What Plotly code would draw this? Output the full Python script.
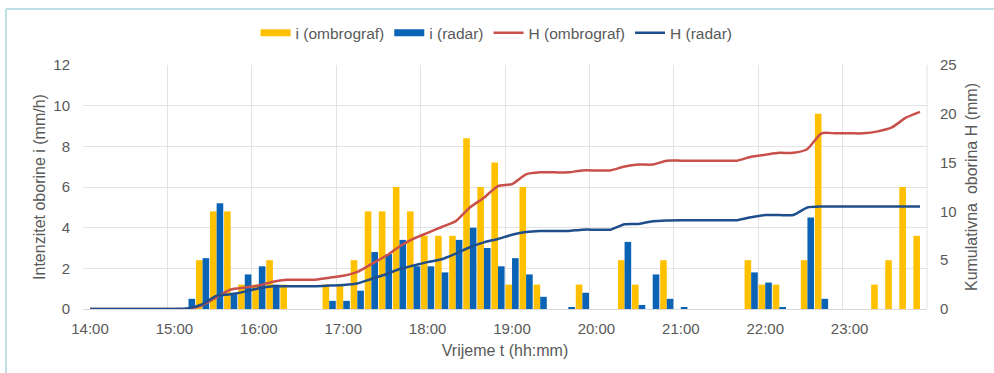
import plotly.graph_objects as go

# 10-minute intervals from 14:00 to 23:50
times = [f"{h:02d}:{m:02d}" for h in range(14, 24) for m in range(0, 60, 10)]

# Rain intensity i (mm/h) per 10-minute interval
i_ombrograf = [0, 0, 0, 0, 0, 0, 0, 0, 2.4, 4.8,
               4.8, 1.2, 1.2, 2.4, 1.2, 0, 0, 1.2, 1.2, 2.4,
               4.8, 4.8, 6.0, 4.8, 3.6, 3.6, 3.6, 8.4, 6.0, 7.2,
               1.2, 6.0, 1.2, 0, 0, 1.2, 0, 0, 2.4, 1.2,
               0, 2.4, 0, 0, 0, 0, 0, 2.4, 1.2, 1.2,
               0, 2.4, 9.6, 0, 0, 0, 1.2, 2.4, 6.0, 3.6]
i_radar = [0, 0, 0, 0, 0, 0, 0, 0.5, 2.5, 5.2,
           0.8, 1.7, 2.1, 1.2, 0, 0, 0, 0.4, 0.4, 0.9,
           2.8, 2.7, 3.4, 2.1, 2.1, 1.8, 3.4, 4.0, 3.0, 2.1,
           2.5, 1.7, 0.6, 0, 0.1, 0.8, 0, 0, 3.3, 0.2,
           1.7, 0.5, 0.1, 0, 0, 0, 0, 1.8, 1.3, 0.1,
           0, 4.5, 0.5, 0, 0, 0, 0, 0, 0, 0]

# Cumulative rainfall H (mm)
H_ombrograf = [0, 0, 0, 0, 0, 0, 0, 0, 0.4, 1.2,
               2.0, 2.2, 2.4, 2.8, 3.0, 3.0, 3.0, 3.2, 3.4, 3.8,
               4.6, 5.4, 6.4, 7.2, 7.8, 8.4, 9.0, 10.4, 11.4, 12.6,
               12.8, 13.8, 14.0, 14.0, 14.0, 14.2, 14.2, 14.2, 14.6, 14.8,
               14.8, 15.2, 15.2, 15.2, 15.2, 15.2, 15.2, 15.6, 15.8, 16.0,
               16.0, 16.4, 18.0, 18.0, 18.0, 18.0, 18.2, 18.6, 19.6, 20.2]
H_radar = [0, 0, 0, 0, 0, 0, 0, 0.08, 0.5, 1.37,
           1.5, 1.78, 2.13, 2.33, 2.33, 2.33, 2.33, 2.4, 2.47, 2.62,
           3.08, 3.53, 4.1, 4.45, 4.8, 5.1, 5.67, 6.33, 6.83, 7.18,
           7.6, 7.88, 7.98, 7.98, 8.0, 8.13, 8.13, 8.13, 8.68, 8.72,
           9.0, 9.08, 9.1, 9.1, 9.1, 9.1, 9.1, 9.4, 9.62, 9.63,
           9.63, 10.4, 10.5, 10.5, 10.5, 10.5, 10.5, 10.5, 10.5, 10.5]

hour_labels = ["14:00", "15:00", "16:00", "17:00", "18:00",
               "19:00", "20:00", "21:00", "22:00", "23:00"]


def minutes(t):
    h, m = map(int, t.split(":"))
    return (h - 14) * 60 + m


STEP = 10
x = [minutes(t) + STEP / 2 for t in times]          # interval centres
tick_x = [minutes(t) + STEP / 2 for t in hour_labels]

TXT = "#595959"
GRID = "#e3e3e3"
FONT = "Liberation Sans, Arial, sans-serif"
YELLOW = "#FFC000"
BLUE = "#0B63B6"
RED = "#C9504A"
NAVY = "#1F4E8C"

fig = go.Figure()
fig.add_bar(x=x, y=i_ombrograf, name="i (ombrograf)", showlegend=False,
            marker=dict(color=YELLOW, line=dict(width=0)))
fig.add_bar(x=x, y=i_radar, name="i (radar)", showlegend=False,
            marker=dict(color=BLUE, line=dict(width=0)))
fig.add_scatter(x=x, y=H_ombrograf, name="H (ombrograf)", yaxis="y2",
                mode="lines", showlegend=False,
                line=dict(color=RED, width=2.5, shape="spline", smoothing=0.6))
fig.add_scatter(x=x, y=H_radar, name="H (radar)", yaxis="y2",
                mode="lines", showlegend=False,
                line=dict(color=NAVY, width=2.5, shape="spline", smoothing=0.6))

# Legend entries: wide flat swatches for the bars, thin strokes for the lines
for name, color, width in [("i (ombrograf)", YELLOW, 7), ("i (radar)", BLUE, 7),
                           ("H (ombrograf)", RED, 2.5), ("H (radar)", NAVY, 2.5)]:
    fig.add_scatter(x=[None], y=[None], mode="lines", name=name,
                    line=dict(color=color, width=width))

fig.update_layout(
    width=994, height=373,
    margin=dict(l=83, r=67, t=65, b=64),
    paper_bgcolor="white", plot_bgcolor="white",
    font=dict(family=FONT, size=15, color=TXT),
    barmode="group", bargap=0.06, bargroupgap=0,
    showlegend=True,
    legend=dict(orientation="h", x=0.49, xanchor="center",
                y=1.13, yanchor="middle",
                font=dict(size=15.5, color=TXT),
                itemwidth=30, traceorder="normal"),
    xaxis=dict(range=[0, 600], tickmode="array", tickvals=tick_x,
               ticktext=hour_labels, showgrid=False, ticks="",
               ticklabelstandoff=6,
               showline=True, linecolor="#d9d9d9", linewidth=1,
               zeroline=False,
               minor=dict(tick0=0, dtick=60, showgrid=True,
                          gridcolor=GRID, gridwidth=1, ticks=""),
               title=dict(text="Vrijeme t (hh:mm)", standoff=8,
                          font=dict(size=16, color=TXT))),
    yaxis=dict(range=[0, 12], dtick=2, showgrid=True, gridcolor=GRID,
               zeroline=False, ticks="", ticklabelstandoff=12,
               title=dict(text="Intenzitet oborine i (mm/h)", standoff=3,
                          font=dict(size=16, color=TXT))),
    yaxis2=dict(range=[0, 25], dtick=5, overlaying="y", side="right",
                showgrid=False, zeroline=False, ticks="",
                ticklabelstandoff=12,
                title=dict(text="Kumulativna  oborina H (mm)", standoff=10,
                           font=dict(size=16, color=TXT))),
    shapes=[
        dict(type="line", xref="paper", yref="paper",
             x0=(6 - 83) / 844, x1=(1000 - 83) / 844,
             y0=1 + (65 - 9) / 244, y1=1 + (65 - 9) / 244,
             line=dict(color="#a9d3dd", width=1.5)),
        dict(type="line", xref="paper", yref="paper",
             x0=(6 - 83) / 844, x1=(6 - 83) / 844,
             y0=1 + (65 - 9) / 244, y1=-1,
             line=dict(color="#a9d3dd", width=1.5)),
        dict(type="line", xref="paper", yref="paper", x0=1, x1=1,
             y0=0, y1=1, line=dict(color=GRID, width=1), layer="below"),
    ],
)

fig.write_html("out.html")
